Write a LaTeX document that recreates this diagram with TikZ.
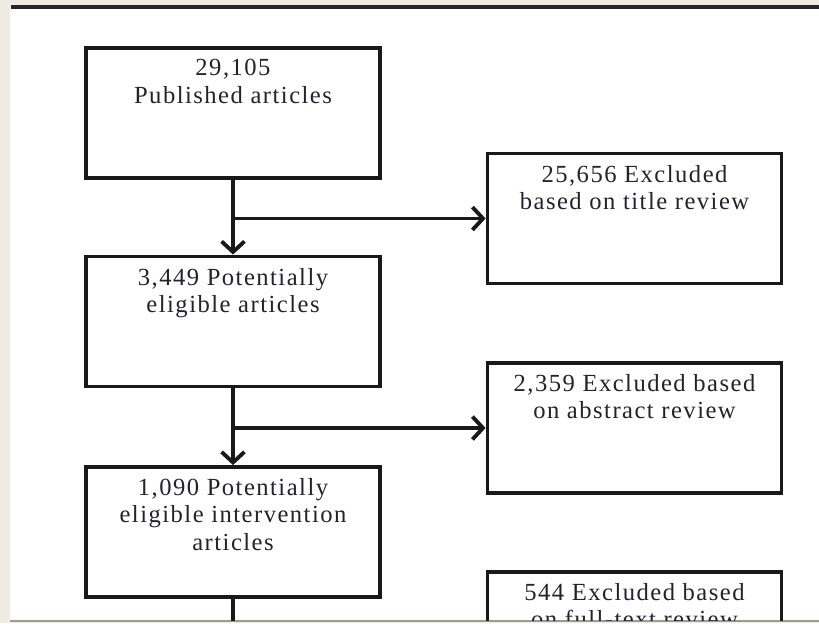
\documentclass[tikz,border=0pt]{standalone}
\usepackage{fontspec}
\newfontfamily\flowfont[LetterSpace=6]{Liberation Serif}
\usetikzlibrary{positioning,arrows.meta}
\definecolor{pagebeige}{HTML}{EEEBE3}
\definecolor{inkgray}{HTML}{23232E}
\definecolor{rulegray}{HTML}{9C9C94}
\begin{document}
\begin{tikzpicture}[x=0.02cm,y=-0.02cm,
    stage/.style={draw=black!90, line width=2.2pt, minimum width=5.88cm, minimum height=2.6cm, inner sep=0pt},
    caption/.style={anchor=north, inner sep=0pt, align=center, text=inkgray, font=\flowfont\fontsize{14}{15.6}\selectfont},
    flow/.style={draw=black!90, line width=2.2pt, -{Straight Barb[length=6pt,width=13pt]}}]
    \useasboundingbox (0,0) rectangle (819,623);
    \fill[pagebeige] (0,0) rectangle (819,623);
    \fill[white] (10,5) rectangle (819,620);
    \draw[rulegray, line width=1pt] (10,621) -- (819,621);
    \draw[black!85, line width=1.8pt] (11,7) -- (819,7);
    \clip (10,9) rectangle (819,620);
    \node[stage] (pub) at (233,113) {};
    \node[stage] (elig) at (233,321.5) {};
    \node[stage] (interv) at (233,532) {};
    \node[stage] (exTitle) at (634.5,218.5) {};
    \node[stage] (exAbstract) at (634.5,428) {};
    \node[stage] (exFull) at (634.5,637) {};
    \node[caption, below=0.26cm of pub.north] (pubText) {29,105\\Published articles};
    \node[caption, below=0.26cm of elig.north] (eligText) {3,449 Potentially\\eligible articles};
    \node[caption, below=0.26cm of interv.north] (intervText) {1,090 Potentially\\eligible intervention\\articles};
    \node[caption, below=0.26cm of exTitle.north] (exTitleText) {25,656 Excluded\\based on title review};
    \node[caption, below=0.26cm of exAbstract.north] (exAbstractText) {2,359 Excluded based\\on abstract review};
    \node[caption, below=0.26cm of exFull.north] (exFullText) {544 Excluded based\\on full-text review};
    \coordinate (cut) at (233,640);
    \draw[flow] (pub.south) -- (elig.north);
    \draw[flow] (pub.south |- exTitle.west) -- (exTitle.west);
    \draw[flow] (elig.south) -- (interv.north);
    \draw[flow] (elig.south |- exAbstract.west) -- (exAbstract.west);
    \draw[draw=black!90, line width=2.2pt] (interv.south) -- (cut);
\end{tikzpicture}
\end{document}
